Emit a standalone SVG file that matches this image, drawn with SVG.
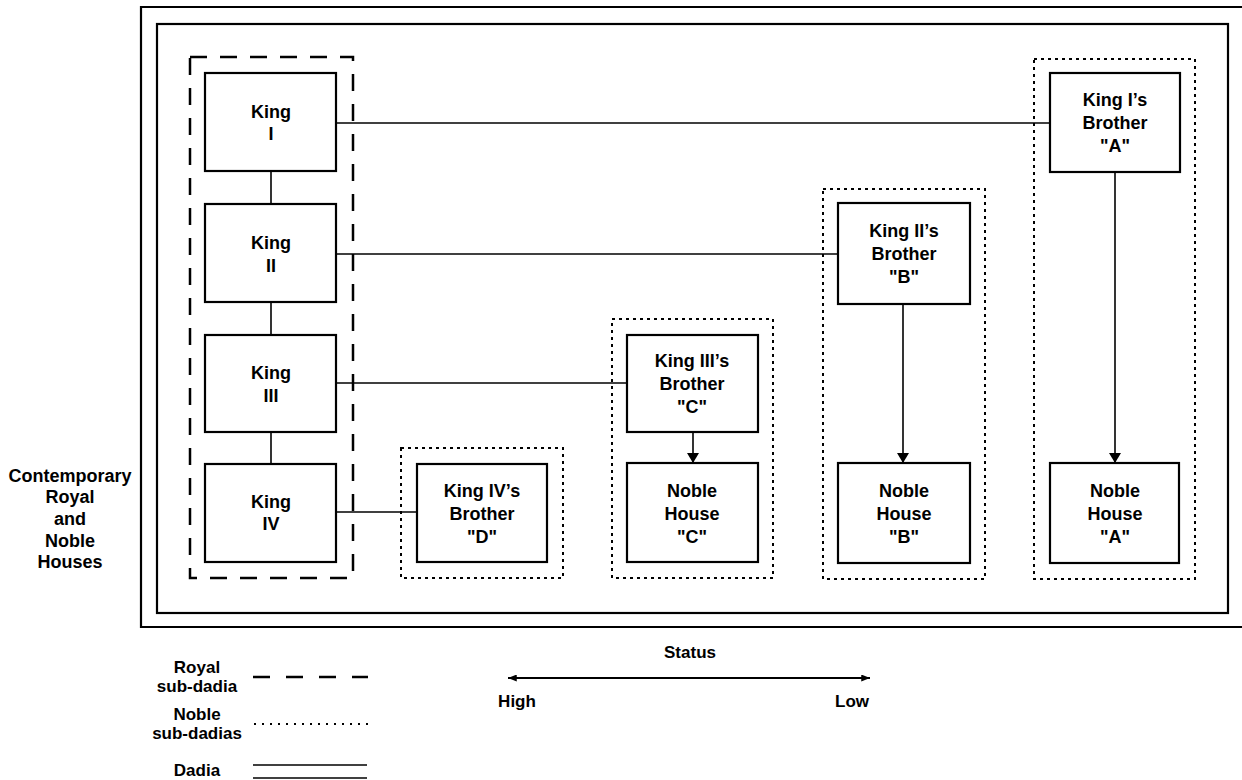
<svg xmlns="http://www.w3.org/2000/svg" width="1242" height="780" viewBox="0 0 1242 780">
<defs>
<marker id="arr" viewBox="0 0 10 12" refX="10" refY="6" markerWidth="10" markerHeight="12" markerUnits="userSpaceOnUse" orient="auto">
<path d="M0,0 L10,6 L0,12 Z" fill="#000"/>
</marker>
<marker id="arrs" viewBox="0 0 10 8" refX="10" refY="4" markerWidth="10" markerHeight="7" markerUnits="userSpaceOnUse" orient="auto-start-reverse">
<path d="M0,0 L10,4 L0,8 Z" fill="#000"/>
</marker>
<style>
.frame{fill:none;stroke:#000;stroke-width:2.2}
.box{fill:#fff;stroke:#000;stroke-width:2.2}
.royal{fill:none;stroke:#000;stroke-width:2.5;stroke-dasharray:17 13}
.noble{fill:none;stroke:#000;stroke-width:2;stroke-dasharray:3 4}
.ln{fill:none;stroke:#000;stroke-width:1.6}
.lbl{font-family:"Liberation Sans",Arial,sans-serif;font-weight:bold;font-size:18px;text-anchor:middle;fill:#000}
.leg{font-family:"Liberation Sans",Arial,sans-serif;font-weight:bold;font-size:17px;text-anchor:middle;fill:#000}
</style>
</defs>
<path class="frame" d="M1242,7 L141,7 L141,627 L1242,627"/>
<rect class="frame" x="157" y="24" width="1071" height="589"/>

<g id="royal-sub-dadia"><rect class="royal" x="190" y="57" width="163" height="521"/></g>
<g id="noble-sub-dadia-D"><rect class="noble" x="401" y="448" width="162" height="130"/></g>
<g id="noble-sub-dadia-C"><rect class="noble" x="612" y="319" width="161" height="259"/></g>
<g id="noble-sub-dadia-B"><rect class="noble" x="823" y="189" width="162" height="390"/></g>
<g id="noble-sub-dadia-A"><rect class="noble" x="1034" y="59" width="161" height="520"/></g>

<g id="connectors">
<line class="ln" x1="271" y1="171" x2="271" y2="204"/>
<line class="ln" x1="271" y1="302" x2="271" y2="335"/>
<line class="ln" x1="271" y1="432" x2="271" y2="464"/>
<line class="ln" x1="336" y1="123" x2="1050" y2="123"/>
<line class="ln" x1="336" y1="254" x2="838" y2="254"/>
<line class="ln" x1="336" y1="383" x2="627" y2="383"/>
<line class="ln" x1="336" y1="512" x2="417" y2="512"/>
<line class="ln" x1="1115" y1="172" x2="1115" y2="463" marker-end="url(#arr)"/>
<line class="ln" x1="903" y1="304" x2="903" y2="463" marker-end="url(#arr)"/>
<line class="ln" x1="693" y1="432" x2="693" y2="463" marker-end="url(#arr)"/>
</g>

<g id="king-1"><rect class="box" x="205" y="73" width="131" height="98"/><text class="lbl" x="271" y="118">King</text><text class="lbl" x="271" y="140">I</text></g>
<g id="king-2"><rect class="box" x="205" y="204" width="131" height="98"/><text class="lbl" x="271" y="249">King</text><text class="lbl" x="271" y="272">II</text></g>
<g id="king-3"><rect class="box" x="205" y="335" width="131" height="97"/><text class="lbl" x="271" y="379">King</text><text class="lbl" x="271" y="402">III</text></g>
<g id="king-4"><rect class="box" x="205" y="464" width="131" height="98"/><text class="lbl" x="271" y="508">King</text><text class="lbl" x="271" y="530">IV</text></g>

<g id="brother-A"><rect class="box" x="1050" y="73" width="130" height="99"/><text class="lbl" x="1115" y="106">King I’s</text><text class="lbl" x="1115" y="129">Brother</text><text class="lbl" x="1115" y="152">"A"</text></g>
<g id="brother-B"><rect class="box" x="838" y="203" width="132" height="101"/><text class="lbl" x="904" y="237">King II’s</text><text class="lbl" x="904" y="260">Brother</text><text class="lbl" x="904" y="283">"B"</text></g>
<g id="brother-C"><rect class="box" x="627" y="335" width="131" height="97"/><text class="lbl" x="692" y="367">King III’s</text><text class="lbl" x="692" y="390">Brother</text><text class="lbl" x="692" y="413">"C"</text></g>
<g id="brother-D"><rect class="box" x="417" y="464" width="130" height="98"/><text class="lbl" x="482" y="497">King IV’s</text><text class="lbl" x="482" y="520">Brother</text><text class="lbl" x="482" y="543">"D"</text></g>

<g id="noble-house-A"><rect class="box" x="1050" y="463" width="129" height="100"/><text class="lbl" x="1115" y="497">Noble</text><text class="lbl" x="1115" y="520">House</text><text class="lbl" x="1115" y="543">"A"</text></g>
<g id="noble-house-B"><rect class="box" x="838" y="463" width="132" height="100"/><text class="lbl" x="904" y="497">Noble</text><text class="lbl" x="904" y="520">House</text><text class="lbl" x="904" y="543">"B"</text></g>
<g id="noble-house-C"><rect class="box" x="627" y="463" width="131" height="99"/><text class="lbl" x="692" y="497">Noble</text><text class="lbl" x="692" y="520">House</text><text class="lbl" x="692" y="543">"C"</text></g>

<g id="side-label">
<text class="lbl" x="70" y="482">Contemporary</text>
<text class="lbl" x="70" y="503">Royal</text>
<text class="lbl" x="70" y="525">and</text>
<text class="lbl" x="70" y="547">Noble</text>
<text class="lbl" x="70" y="568">Houses</text>
</g>

<g id="legend">
<text class="leg" x="197" y="673">Royal</text>
<text class="leg" x="197" y="692">sub-dadia</text>
<line x1="253" y1="677" x2="368" y2="677" stroke="#000" stroke-width="2.5" stroke-dasharray="17 16"/>
<text class="leg" x="197" y="720">Noble</text>
<text class="leg" x="197" y="739">sub-dadias</text>
<line x1="254" y1="724" x2="368" y2="724" stroke="#000" stroke-width="2" stroke-dasharray="2 6"/>
<text class="leg" x="197" y="776">Dadia</text>
<line x1="253" y1="765" x2="367" y2="765" stroke="#000" stroke-width="1.6"/>
<line x1="253" y1="778" x2="367" y2="778" stroke="#000" stroke-width="1.6"/>
</g>

<g id="status">
<text class="leg" x="690" y="658">Status</text>
<line x1="508" y1="678" x2="870" y2="678" stroke="#000" stroke-width="1.8" marker-start="url(#arrs)" marker-end="url(#arrs)"/>
<text class="leg" x="517" y="707">High</text>
<text class="leg" x="852" y="707">Low</text>
</g>
</svg>
